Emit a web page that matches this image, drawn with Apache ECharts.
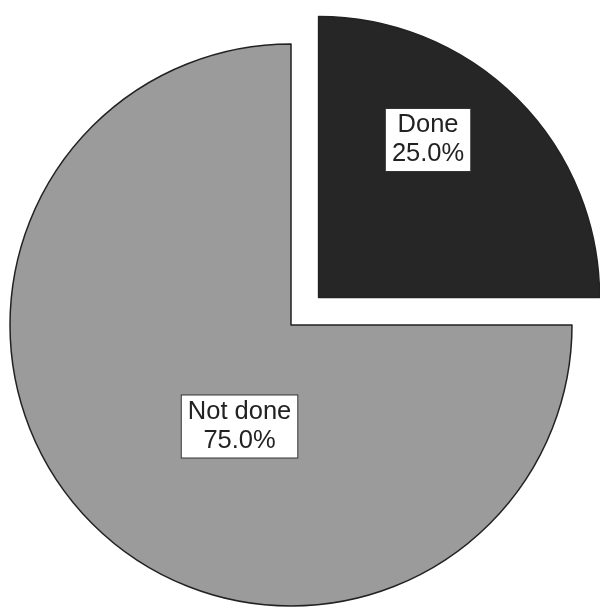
<!DOCTYPE html>
<html>
<head>
<meta charset="utf-8">
<style>
  html, body { margin: 0; padding: 0; background: #ffffff; }
  #chart { width: 600px; height: 608px; }
</style>
<script src="https://cdn.jsdelivr.net/npm/echarts@6/dist/echarts.min.js"></script>
</head>
<body>
<div id="chart"></div>
<script>
// Completion status shares
const categories = ['Done', 'Not done'];
const counts = [25, 75];
const sliceColors = ['#262626', '#9b9b9b'];

const chart = echarts.init(document.getElementById('chart'), null, { renderer: 'canvas' });

// per-slice label nudges so each box sits where it reads best
const labelOffsets = [[8, -56], [50, 0]];

const data = categories.map((name, i) => ({
  name: name,
  value: counts[i],
  selected: i === 0,
  itemStyle: { color: sliceColors[i] }
}));

chart.setOption({
  animation: false,
  backgroundColor: '#ffffff',
  series: [{
    type: 'pie',
    center: [291, 325],
    radius: [0, 281],
    startAngle: 90,
    clockwise: true,
    selectedMode: 'single',
    selectedOffset: 39,
    avoidLabelOverlap: false,
    emphasis: { disabled: true },
    itemStyle: { borderColor: '#222222', borderWidth: 1.5 },
    label: {
      show: true,
      position: 'inside',
      formatter: p => p.name + '\n' + p.percent.toFixed(1) + '%',
      fontFamily: 'Liberation Sans, Arial, sans-serif',
      fontSize: 25.5,
      lineHeight: 29,
      color: '#222222',
      align: 'center',
      backgroundColor: '#ffffff',
      borderColor: '#333333',
      borderWidth: 1,
      padding: [2, 6]
    },
    labelLayout: p => ({ dx: labelOffsets[p.dataIndex][0], dy: labelOffsets[p.dataIndex][1] }),
    labelLine: { show: false },
    data: data
  }]
});
</script>
</body>
</html>
